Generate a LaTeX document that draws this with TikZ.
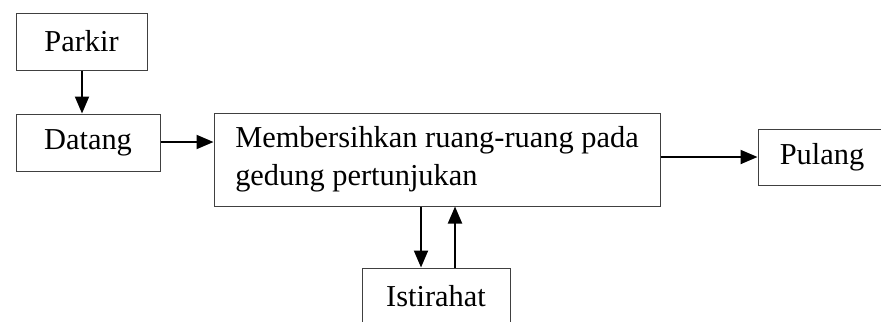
\documentclass[tikz,border=0pt]{standalone}
\usepackage{fontspec}
\setmainfont{Liberation Serif}
\usetikzlibrary{arrows.meta}

\begin{document}
\begin{tikzpicture}[x=0.5pt,y=-0.5pt,
        kotak/.style={draw=black!75,line width=0.5pt,inner sep=0pt,
            font=\fontsize{15.2}{19}\selectfont},
        panah/.style={-{Triangle[length=8.5pt,width=7pt]},line width=1pt}]
            \useasboundingbox (0,0) rectangle (881,321);

            \node[kotak,minimum width=65.5pt,minimum height=28.5pt] (parkir) at (81.5,41.5) {Parkir};
            \node[kotak,minimum width=72pt,minimum height=28.5pt] (datang) at (88,142.5) {Datang};
            \node[kotak,minimum width=223pt,minimum height=46.5pt,align=left] (bersih) at (437,159.5)
                {Membersihkan ruang-ruang pada\\gedung pertunjukan};
            \node[kotak,minimum width=64pt,minimum height=28pt] (pulang) at (822,157) {Pulang};
            \node[kotak,minimum width=74pt,minimum height=28.5pt] (istirahat) at (436,296.5) {Istirahat};

            \draw[panah] ([xshift=0.25pt]parkir.south)--([xshift=0.25pt]parkir.south |- datang.north);
            \draw[panah] ([yshift=0.25pt]datang.east)--([yshift=0.25pt]datang.east -| bersih.west);
            \draw[panah] (bersih.east |- pulang.west)--(pulang.west);
            \draw[panah] ([xshift=-8pt]bersih.south)--([xshift=-8pt]bersih.south |- istirahat.north);
            \draw[panah] ([xshift=9.5pt]istirahat.north)--([xshift=9.5pt]istirahat.north |- bersih.south);
        \end{tikzpicture}
\end{document}
